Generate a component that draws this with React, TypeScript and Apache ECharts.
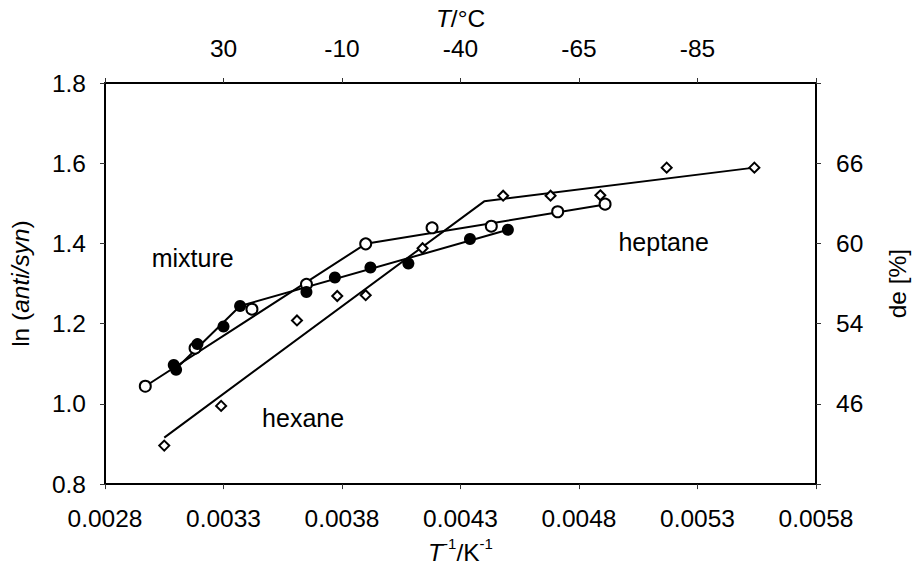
import React, { useEffect, useRef } from "react";
import * as echarts from "echarts";

// Tick values and labels
const xTicks = [0.0028, 0.0033, 0.0038, 0.0043, 0.0048, 0.0053, 0.0058];
const topTickValues = [0.0033, 0.0038, 0.0043, 0.0048, 0.0053];
const topTickLabels = ["30", "-10", "-40", "-65", "-85"];
const rightTickValues = [1.0, 1.2, 1.4, 1.6];
const rightTickLabels = ["46", "54", "60", "66"];

// Data: [1/T, ln(anti/syn)]
const hexanePoints = [
  [0.00305, 0.896], [0.00329, 0.995], [0.00361, 1.208], [0.00378, 1.269],
  [0.0039, 1.271], [0.00414, 1.388], [0.00448, 1.519], [0.00468, 1.519],
  [0.00489, 1.52], [0.00517, 1.589], [0.00554, 1.589],
];
const heptanePoints = [
  [0.00297, 1.044], [0.00318, 1.139], [0.00342, 1.236], [0.00365, 1.298],
  [0.0039, 1.399], [0.00418, 1.439], [0.00443, 1.443], [0.00471, 1.479],
  [0.00491, 1.498],
];
const mixturePoints = [
  [0.00309, 1.097], [0.0031, 1.085], [0.00319, 1.149], [0.0033, 1.193],
  [0.00337, 1.244], [0.00365, 1.279], [0.00377, 1.315], [0.00392, 1.34],
  [0.00408, 1.35], [0.00434, 1.411], [0.0045, 1.434],
];

// Fitted lines
const hexaneFit = [[0.00305, 0.916], [0.0044, 1.505], [0.00554, 1.589]];
const heptaneFit = [[0.00297, 1.044], [0.0039, 1.399], [0.00491, 1.497]];
const mixtureFit = [[0.00309, 1.082], [0.00337, 1.244], [0.0045, 1.434]];

// Annotations
const annotationTexts = ["mixture", "hexane", "heptane"];
const annotationX = [0.00317, 0.003636, 0.005157];
const annotationY = [1.364, 0.966, 1.404];

const FONT = "'Liberation Sans', Arial, sans-serif";
const FS = 24.5;

function lookup(v: number, vals: number[], labels: string[]) {
  for (let i = 0; i < vals.length; i++) {
    if (Math.abs(v - vals[i]) < 1e-7) return labels[i];
  }
  return "";
}

export default function App() {
  const ref = useRef<HTMLDivElement>(null);
  useEffect(() => {
    if (!ref.current) return;
    const chart = echarts.init(ref.current, undefined, { renderer: "svg" });
    const axisLine = { onZero: false, lineStyle: { color: "#000", width: 2 } };
    const tickStyle = { color: "#333", width: 1 };
    const labelStyle = { color: "#000", fontSize: FS, fontFamily: FONT };
    const nameStyle = {
      color: "#000",
      fontSize: FS,
      fontFamily: FONT,
      rich: {
        i: { fontStyle: "italic", fontSize: FS, fontFamily: FONT, color: "#000" },
        s: { fontSize: 15, fontFamily: FONT, color: "#000", padding: [0, 0, 18, 0] },
        n: { fontSize: FS, fontFamily: FONT, color: "#000" },
      },
    };
    const lineSeries = (name: string, data: number[][]) => ({
      name,
      type: "line",
      data,
      symbol: "none",
      lineStyle: { color: "#000", width: 2 },
      z: 2,
    });
    const option = {
      animation: false,
      backgroundColor: "#fff",
      grid: { left: 105, right: 96, top: 83, bottom: 83 },
      xAxis: [
        {
          type: "value",
          position: "bottom",
          min: 0.0028,
          max: 0.0058,
          axisLine,
          axisTick: { show: true, customValues: xTicks, length: 5, lineStyle: tickStyle },
          axisLabel: {
            ...labelStyle,
            customValues: xTicks,
            margin: 22,
            formatter: (v: number) => v.toFixed(4),
          },
          splitLine: { show: false },
          name: "{i|T}{s|-1}{n|/K}{s|-1}",
          nameLocation: "middle",
          nameGap: 50,
          nameTextStyle: nameStyle,
        },
        {
          type: "value",
          position: "top",
          min: 0.0028,
          max: 0.0058,
          axisLine,
          axisTick: { show: true, customValues: xTicks, length: 5, lineStyle: tickStyle },
          axisLabel: {
            ...labelStyle,
            customValues: topTickValues,
            margin: 22,
            formatter: (v: number) => lookup(v, topTickValues, topTickLabels),
          },
          splitLine: { show: false },
          name: "{i|T}{n|/°C}",
          nameLocation: "middle",
          nameGap: 45,
          nameTextStyle: nameStyle,
        },
      ],
      yAxis: [
        {
          type: "value",
          position: "left",
          min: 0.8,
          max: 1.8,
          interval: 0.2,
          axisLine,
          axisTick: { show: true, length: 5, lineStyle: tickStyle },
          axisLabel: { ...labelStyle, margin: 19, formatter: (v: number) => v.toFixed(1) },
          splitLine: { show: false },
          name: "ln ({i|anti/syn})",
          nameLocation: "middle",
          nameRotate: 90,
          nameGap: 72,
          nameTextStyle: nameStyle,
        },
        {
          type: "value",
          position: "right",
          min: 0.8,
          max: 1.8,
          interval: 0.2,
          axisLine,
          axisTick: { show: true, length: 5, lineStyle: tickStyle },
          axisLabel: {
            ...labelStyle,
            customValues: rightTickValues,
            margin: 20,
            formatter: (v: number) => lookup(v, rightTickValues, rightTickLabels),
          },
          splitLine: { show: false },
          name: "de [%]",
          nameLocation: "middle",
          nameRotate: 90,
          nameGap: 69,
          nameTextStyle: nameStyle,
        },
      ],
      series: [
        lineSeries("hexane fit", hexaneFit),
        lineSeries("heptane fit", heptaneFit),
        lineSeries("mixture fit", mixtureFit),
        {
          name: "hexane",
          type: "scatter",
          data: hexanePoints,
          symbol: "diamond",
          symbolSize: 10,
          itemStyle: { color: "#fff", borderColor: "#000", borderWidth: 2, opacity: 1 },
          z: 5,
        },
        {
          name: "heptane",
          type: "scatter",
          data: heptanePoints,
          symbol: "circle",
          symbolSize: 11,
          itemStyle: { color: "#fff", borderColor: "#000", borderWidth: 2, opacity: 1 },
          z: 5,
        },
        {
          name: "mixture",
          type: "scatter",
          data: mixturePoints,
          symbol: "circle",
          symbolSize: 12,
          itemStyle: { color: "#000", opacity: 1 },
          z: 6,
        },
        {
          name: "annotations",
          type: "scatter",
          symbolSize: 0,
          silent: true,
          itemStyle: { opacity: 1 },
          data: annotationTexts.map((t, i) => ({ name: t, value: [annotationX[i], annotationY[i]] })),
          label: {
            show: true,
            position: "inside",
            formatter: (p: any) => p.name,
            color: "#000",
            fontSize: 25,
            fontFamily: FONT,
          },
          z: 7,
        },
      ],
    };
    chart.setOption(option as any);
    return () => chart.dispose();
  }, []);
  return (
    <div
      ref={ref}
      style={{ position: "fixed", left: 0, top: 0, width: 918, height: 570, background: "#fff" }}
    />
  );
}
